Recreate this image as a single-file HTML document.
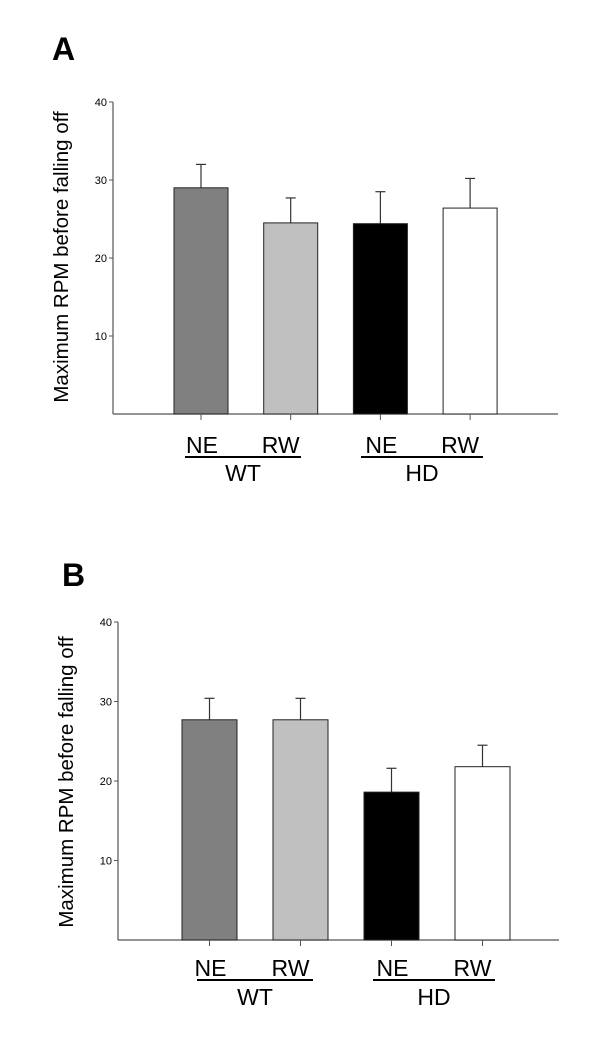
<!DOCTYPE html>
<html><head><meta charset="utf-8"><style>
body{margin:0;background:#fff;}
svg{display:block;font-family:"Liberation Sans",Arial,sans-serif;}
</style></head><body>
<svg id="svg" width="600" height="1054" viewBox="0 0 600 1054">
<text x="52" y="60" font-size="32" font-weight="bold">A</text>
<text x="62" y="586" font-size="32" font-weight="bold">B</text>
</svg>
<script>
const categories=["NE","RW","NE","RW"];
const groups=["WT","HD"];
const fills=["#808080","#c0c0c0","#000000","#ffffff"];
const valuesA=[29.0,24.5,24.4,26.4];
const errorsA=[3.0,3.2,4.1,3.8];
const valuesB=[27.7,27.7,18.6,21.8];
const errorsB=[2.7,2.7,3.0,2.7];
const ticks=[10,20,30,40];
const NS="http://www.w3.org/2000/svg";
const svg=document.getElementById('svg');
function mk(tag,attrs,parent){const e=document.createElementNS(NS,tag);for(const k in attrs)e.setAttribute(k,attrs[k]);(parent||svg).appendChild(e);return e;}
function panel(id,vals,errs,ax,axEnd,y40,y0,bar0,step,bw,labY,ulY,grpY,ul,titleX,titleY){
  const g=mk('g',{});
  
  
  const y=v=>y0-(y0-y40)*v/40;
  const xc=i=>bar0+bw/2+i*step;
  const ya=mk('line',{x1:ax,y1:y40,x2:ax,y2:y0,stroke:'#555','stroke-width':1.2},g);
  
  const xa=mk('line',{x1:ax,y1:y0,x2:axEnd,y2:y0,stroke:'#555','stroke-width':1.2},g);
  
  ticks.forEach(t=>{
    mk('line',{x1:ax-4,y1:y(t),x2:ax,y2:y(t),stroke:'#555'},g);
    const tl=mk('text',{x:ax-6,y:y(t)+4,'font-size':11,'text-anchor':'end'},g);
    tl.textContent=t;
    
  });
  vals.forEach((v,i)=>{
    const c=xc(i);
    const el=mk('line',{x1:c,y1:y(v),x2:c,y2:y(v+errs[i]),stroke:'#333','stroke-width':1.2},g);
    
    mk('line',{x1:c-5,y1:y(v+errs[i]),x2:c+5,y2:y(v+errs[i]),stroke:'#333','stroke-width':1.2},g);
    const r=mk('rect',{x:c-bw/2,y:y(v),width:bw,height:y0-y(v),fill:fills[i],stroke:'#222','stroke-width':1},g);
    
    
    mk('line',{x1:c,y1:y0,x2:c,y2:y0+6,stroke:'#555'},g);
  });
  categories.forEach((cat,i)=>{
    const off=(i%2===0)?1:-10;
    const t=mk('text',{x:xc(i)+off,y:labY+8,'font-size':23,'text-anchor':'middle'},g);
    t.textContent=cat;
    
  });
  groups.forEach((gr,j)=>{
    const l=mk('line',{x1:ul[j][0],y1:ulY,x2:ul[j][1],y2:ulY,stroke:'#000','stroke-width':2},g);
    
    const t=mk('text',{x:(ul[j][0]+ul[j][1])/2,y:grpY+8,'font-size':23,'text-anchor':'middle'},g);
    t.textContent=gr;
    
  });
  const tt=mk('text',{x:titleX,y:titleY,'font-size':20.5,'text-anchor':'middle',transform:`rotate(-90 ${titleX} ${titleY})`},g);
  tt.textContent='Maximum RPM before falling off';
  
}
panel('a',valuesA,errorsA,113,558,102,414,174,89.7,54,445,457,473,[[185,301],[361,483]],68,257);
panel('b',valuesB,errorsB,118,559,622,940,182,91,55,968,980,997,[[197,313],[373,495]],73,782);
</script>
</body></html>
